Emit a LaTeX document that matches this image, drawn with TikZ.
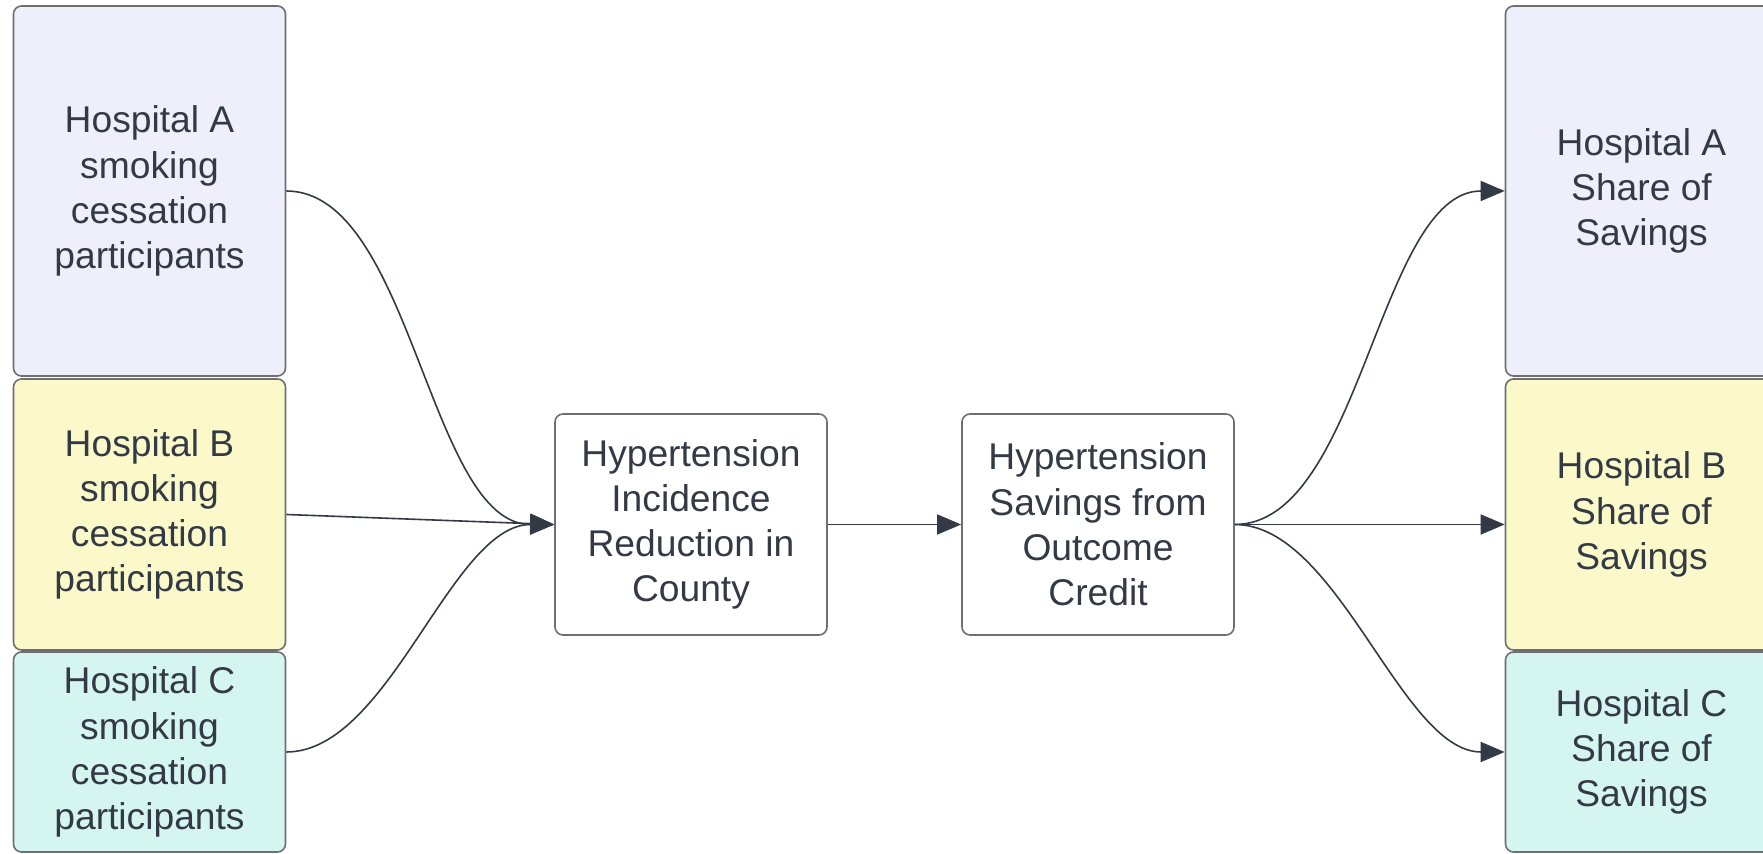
\documentclass[tikz,border=0pt]{standalone}
\usepackage{fontspec}
\setmainfont{Liberation Sans}
\usetikzlibrary{arrows.meta}
\definecolor{fillA}{HTML}{EFEFFC}
\definecolor{fillB}{HTML}{FBF9C9}
\definecolor{fillC}{HTML}{D4F5F0}
\definecolor{edgegray}{HTML}{6E6E73}
\definecolor{txt}{HTML}{343A45}
\definecolor{arr}{HTML}{343A45}
\begin{document}
\begin{tikzpicture}[x=0.5pt,y=-0.5pt,
  box/.style={draw=edgegray, line width=0.8pt, rounded corners=4pt, inner sep=0pt,
    align=center, text=txt, font=\fontsize{18.6pt}{22.6pt}\selectfont, minimum width=136pt},
  conn/.style={draw=arr, line width=0.8pt, -{Triangle[length=12pt,width=10pt]}},
  curvy/.style={out=0, in=180, looseness=0.75}]
\clip (0,0) rectangle (1763,854);
\fill[white] (0,0) rectangle (1763,854);
% left column
\node[box, fill=fillA, minimum height=185pt] (la) at (149.5,191) {Hospital A\\smoking\\cessation\\participants};
\node[box, fill=fillB, minimum height=135.5pt] (lb) at (149.5,514.5) {Hospital B\\smoking\\cessation\\participants};
\node[box, fill=fillC, minimum height=100pt] (lc) at (149.5,752) {Hospital C\\smoking\\cessation\\participants};
% middle
\node[box, fill=white, minimum height=110.5pt] (m1) at (691,524.5) {Hypertension\\Incidence\\Reduction in\\County};
\node[box, fill=white, minimum height=110.5pt] (m2) at (1098,524.5) {Hypertension\\Savings from\\Outcome\\Credit};
% right column
\node[box, fill=fillA, minimum height=185pt] (ra) at (1641.5,191) {Hospital A\\Share of\\Savings};
\node[box, fill=fillB, minimum height=135.5pt] (rb) at (1641.5,514.5) {Hospital B\\Share of\\Savings};
\node[box, fill=fillC, minimum height=100pt] (rc) at (1641.5,752) {Hospital C\\Share of\\Savings};
% connectors
\draw[conn] (la.east) to[curvy] (m1.west);
\draw[conn] (lb.east) -- (m1.west);
\draw[conn] (lc.east) to[curvy] (m1.west);
\draw[conn] (m1.east) -- (m2.west);
\draw[conn] (m2.east) to[curvy] (ra.west);
\draw[conn] (m2.east) -- (m2.east -| rb.west);
\draw[conn] (m2.east) to[curvy] (rc.west);
\end{tikzpicture}
\end{document}
